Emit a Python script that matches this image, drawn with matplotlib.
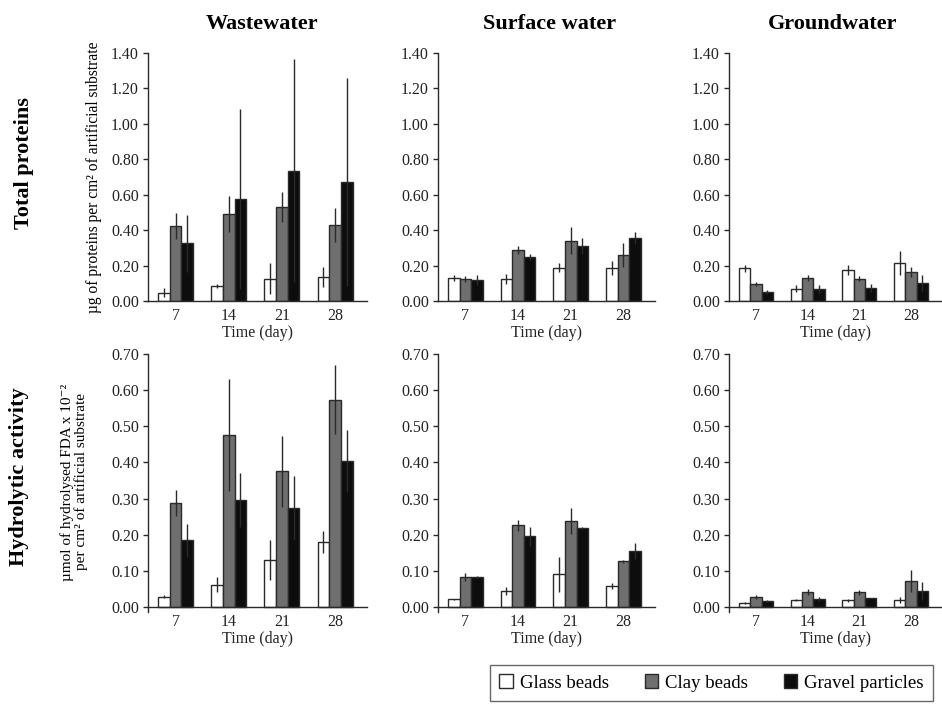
import matplotlib
matplotlib.use("Agg")
import matplotlib.pyplot as plt
from matplotlib.patches import Patch
import numpy as np

plt.rcParams['font.family'] = ['Liberation Serif', 'DejaVu Serif']

days = [7, 14, 21, 28]
materials = ["Glass beads", "Clay beads", "Gravel particles"]
colors = ["white", "#6f6f6f", "#0d0d0d"]
waters = ["Wastewater", "Surface water", "Groundwater"]

# total proteins (µg per cm2), mean and sd
prot_ww = [[0.047, 0.086, 0.127, 0.134], [0.422, 0.491, 0.530, 0.429], [0.326, 0.576, 0.736, 0.671]]
prot_ww_sd = [[0.025, 0.010, 0.090, 0.057], [0.073, 0.100, 0.085, 0.096], [0.160, 0.510, 0.630, 0.587]]
prot_sw = [[0.130, 0.124, 0.187, 0.187], [0.124, 0.288, 0.340, 0.260], [0.119, 0.249, 0.310, 0.354]]
prot_sw_sd = [[0.017, 0.028, 0.025, 0.040], [0.015, 0.022, 0.076, 0.070], [0.028, 0.018, 0.046, 0.035]]
prot_gw = [[0.186, 0.070, 0.175, 0.213], [0.097, 0.130, 0.127, 0.164], [0.053, 0.068, 0.075, 0.103]]
prot_gw_sd = [[0.020, 0.022, 0.027, 0.068], [0.013, 0.017, 0.016, 0.029], [0.011, 0.024, 0.022, 0.044]]

# hydrolytic activity (FDA), mean and sd
fda_ww = [[0.028, 0.062, 0.130, 0.180], [0.289, 0.475, 0.375, 0.574], [0.184, 0.297, 0.273, 0.405]]
fda_ww_sd = [[0.004, 0.020, 0.055, 0.030], [0.036, 0.155, 0.098, 0.095], [0.046, 0.075, 0.088, 0.086]]
fda_sw = [[0.021, 0.044, 0.090, 0.058], [0.083, 0.226, 0.238, 0.126], [0.083, 0.196, 0.219, 0.155]]
fda_sw_sd = [[0.002, 0.010, 0.048, 0.007], [0.012, 0.015, 0.035, 0.005], [0.003, 0.026, 0.002, 0.023]]
fda_gw = [[0.011, 0.020, 0.018, 0.020], [0.028, 0.042, 0.040, 0.072], [0.017, 0.022, 0.025, 0.044]]
fda_gw_sd = [[0.003, 0.003, 0.003, 0.008], [0.006, 0.009, 0.008, 0.030], [0.002, 0.006, 0.001, 0.024]]

prot = [(prot_ww, prot_ww_sd), (prot_sw, prot_sw_sd), (prot_gw, prot_gw_sd)]
fda = [(fda_ww, fda_ww_sd), (fda_sw, fda_sw_sd), (fda_gw, fda_gw_sd)]

W, H = 942, 704
fig = plt.figure(figsize=(9.42, 7.04), dpi=100)

col_px = [(148, 367), (438, 655), (729, 942)]
title_px = [262, 550, 833]
dark = "#2a2a2a"
width = 0.22
x = np.arange(1, 5)

def draw(ax, means, sds, ymax, yticks, ylo):
    for i in range(3):
        ax.bar(x + (i - 1) * width, means[i], width, color=colors[i],
               edgecolor=dark, linewidth=1.0, zorder=2)
        ax.errorbar(x + (i - 1) * width, means[i], yerr=sds[i], fmt="none",
                    ecolor=dark, elinewidth=1.0, capsize=0, zorder=3)
    ax.set_xlim(0.48, 4.6)
    ax.set_ylim(ylo, ymax)
    ax.set_yticks(yticks)
    ax.set_yticklabels(["%.2f" % t for t in yticks])
    ax.set_xticks(x)
    ax.set_xticklabels([str(d) for d in days])
    ax.spines["top"].set_visible(False)
    ax.spines["right"].set_visible(False)
    ax.spines["bottom"].set_position(("data", 0))
    for s in ["left", "bottom"]:
        ax.spines[s].set_color(dark)
        ax.spines[s].set_linewidth(1.0)
    ax.tick_params(axis="y", length=3.5, width=1, color=dark, pad=3,
                   labelsize=11.5, labelcolor="#222222")
    ax.tick_params(axis="x", length=0, pad=5, labelsize=11.5, labelcolor="#222222")
    ax.set_xlabel("Time (day)", fontsize=11.5, labelpad=1, color="#222222")

for c in range(3):
    l, r = col_px[c]
    # top row: total proteins
    ax = fig.add_axes([l / W, 1 - 301 / H, (r - l) / W, (301 - 53) / H])
    draw(ax, prot[c][0], prot[c][1], 1.4, np.arange(0, 1.41, 0.2), 0)
    # bottom row: hydrolytic activity
    ax = fig.add_axes([l / W, 1 - 612 / H, (r - l) / W, (612 - 354) / H])
    draw(ax, fda[c][0], fda[c][1], 0.7, np.arange(0, 0.71, 0.1), -0.014)
    fig.text(title_px[c] / W, 1 - 24 / H, waters[c], fontsize=16,
             fontweight="bold", ha="center", va="center")

fig.text(24 / W, 1 - 163 / H, "Total proteins", rotation=90, fontsize=16,
         fontweight="bold", ha="center", va="center")
fig.text(19 / W, 1 - 477 / H, "Hydrolytic activity", rotation=90, fontsize=16,
         fontweight="bold", ha="center", va="center")
fig.text(94 / W, 1 - 177 / H, "µg of proteins per cm² of artificial substrate",
         rotation=90, fontsize=11.2, ha="center", va="center")
fig.text(74 / W, 1 - 482 / H,
         "µmol of hydrolysed FDA x 10⁻²\nper cm² of artificial substrate",
         rotation=90, fontsize=11, ha="center", va="center", linespacing=1.05)

handles = [Patch(facecolor=colors[i], edgecolor=dark, linewidth=1.0) for i in range(3)]
fig.legend(handles, materials, loc="upper left", bbox_to_anchor=(490 / W, 1 - 665 / H),
           ncol=3, fontsize=13.5, frameon=True, fancybox=False, edgecolor="#444444",
           handlelength=0.7, handleheight=0.7, handletextpad=0.4, columnspacing=1.9,
           borderpad=0.5, borderaxespad=0)

fig.savefig("out.png", dpi=100)
